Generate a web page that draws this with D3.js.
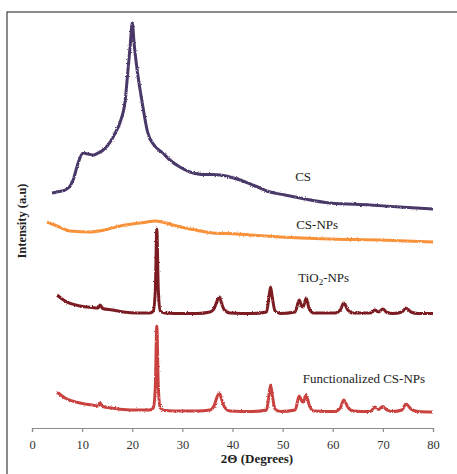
<!DOCTYPE html>
<html>
<head>
<meta charset="utf-8">
<script src="https://cdn.jsdelivr.net/npm/d3@7"></script>
<style>
  body { margin: 0; background: #fff; }
  svg text { font-family: "Liberation Serif", "Times New Roman", serif; }
</style>
</head>
<body>
<div id="chart"></div>
<script>
// XRD patterns, intensity in arbitrary (offset) units
var csTheta = [4.0, 5.0, 6.6, 7.6, 8.2, 9.2, 10.2, 11.2, 12.2, 13.2, 14.2, 15.6, 16.6, 17.6, 18.6, 19.2, 19.6, 20.0, 20.4, 20.9, 21.9, 23.1, 24.5, 26.1, 27.5, 29.5, 31.5, 33, 34.5, 36, 37.5, 39.1, 41.5, 44.5, 47.5, 50.5, 53.5, 59.5, 67.4, 73.4, 80]
var csValues = [235, 236, 238, 242, 248, 265, 275, 274, 273, 275, 278, 286, 295, 306, 328, 361, 383, 405, 383, 361, 328, 295, 282, 275, 268, 261, 256, 254, 253.5, 253.5, 253, 251.5, 248, 242, 236, 233, 230, 225, 223, 221, 219]

var npTheta = [3.0, 5, 7.6, 11.6, 14.5, 17.6, 21.5, 23.0, 24.5, 26, 28.1, 31.5, 36.1, 40.9, 45, 49.5, 59.5, 69.4, 80]
var npValues = [206, 202, 197, 196, 198, 202, 205, 206, 207, 206, 203, 199, 195, 194, 192.5, 191, 189, 188, 186]

var tioTheta = [5.0, 6.6, 9.6, 12.0, 13.2, 13.6, 14.1, 16, 18.2, 21, 23.5, 24.2, 24.6, 24.9, 25.2, 25.6, 26.5, 30, 33, 35.5, 36.3, 37.0, 37.4, 37.8, 38.4, 39.5, 44, 46.8, 47.3, 47.6, 47.9, 48.5, 49.5, 52.5, 53.3, 53.8, 54.1, 54.7, 55.3, 56.2, 60.5, 61.5, 62.2, 63.0, 64.0, 67.5, 68.4, 69.1, 70.0, 70.8, 72, 73.8, 74.6, 75.6, 77, 80]
var tioValues = [133, 127, 122, 120.5, 120, 123, 119.5, 118, 116, 115, 115, 117, 138, 199, 138, 117, 115, 114.5, 114.5, 116, 119, 128, 131, 125, 118, 115, 114.5, 116, 132, 141, 132, 117, 114.5, 116, 128, 122, 121, 130, 119, 115, 115, 118, 125, 118, 115, 115, 118, 116, 119, 115.5, 114.5, 116, 120, 116, 114.5, 114.5]
var funcValues = [36, 30, 25, 23, 22, 25, 21.5, 20, 18.5, 18, 18, 20, 41, 102, 41, 20, 17.5, 17, 17, 18, 22, 32, 35, 29, 21, 17, 16.5, 18, 34, 43, 34, 19, 16.5, 18, 32, 27, 26, 33, 23, 17, 16.5, 20, 28, 21, 17, 16.5, 21, 18.5, 21.5, 18, 16.5, 18, 24, 19, 16.5, 16]

var xTicks = [0, 10, 20, 30, 40, 50, 60, 70, 80]

var series = [
  { name: 'CS', theta: csTheta, values: csValues, color: '#4a3868', label: [52.5, 247] },
  { name: 'CS-NPs', theta: npTheta, values: npValues, color: '#f7923a', label: [52.7, 199] },
  { name: 'TiO2-NPs', theta: tioTheta, values: tioValues, color: '#7b1f22', label: [53.1, 146] },
  { name: 'Functionalized CS-NPs', theta: tioTheta, values: funcValues, color: '#c9433f', label: [54.0, 45] }
]

var width = 457
var height = 474

var svg = d3.select('#chart')
  .append('svg')
  .attr('width', width)
  .attr('height', height)

var x = d3.scaleLinear().domain([0, 80]).range([32, 433])
var y = d3.scaleLinear().domain([0, 420]).range([428, 8])

// outer frame (runs off the page on right/bottom)
svg.append('rect')
  .attr('x', 7)
  .attr('y', 12)
  .attr('width', 480)
  .attr('height', 480)
  .attr('fill', 'none')
  .attr('stroke', '#4d4d4d')
  .attr('stroke-width', 1.3)

// fuzzy look of the measured traces
var defs = svg.append('defs')
var filt = defs.append('filter').attr('id', 'rough')
  .attr('x', '-5%').attr('y', '-5%').attr('width', '110%').attr('height', '110%')
filt.append('feTurbulence')
  .attr('type', 'fractalNoise')
  .attr('baseFrequency', 1.2)
  .attr('numOctaves', 1)
  .attr('seed', 3)
  .attr('result', 'noise')
filt.append('feDisplacementMap')
  .attr('in', 'SourceGraphic')
  .attr('in2', 'noise')
  .attr('scale', 2.6)
  .attr('xChannelSelector', 'R')
  .attr('yChannelSelector', 'G')

var line = d3.line()
  .x(d => x(d[0]))
  .y(d => y(d[1]))
  .curve(d3.curveMonotoneX)

svg.selectAll('.trace')
  .data(series)
  .enter()
  .append('path')
  .attr('class', 'trace')
  .attr('d', d => line(d3.zip(d.theta, d.values)))
  .attr('fill', 'none')
  .attr('stroke', d => d.color)
  .attr('stroke-width', 3)
  .attr('stroke-linejoin', 'round')
  .attr('filter', 'url(#rough)')

// labels
var labels = svg.selectAll('.series-label')
  .data(series)
  .enter()
  .append('text')
  .attr('class', 'series-label')
  .attr('x', d => x(d.label[0]))
  .attr('y', d => y(d.label[1]))
  .attr('font-size', '13px')
  .attr('fill', '#222')

labels.each(function(d) {
  var t = d3.select(this)
  if (d.name === 'TiO2-NPs') {
    t.append('tspan').text('TiO')
    t.append('tspan').text('2').attr('font-size', '9px').attr('dy', 3)
    t.append('tspan').text('-NPs').attr('dy', -3)
  } else {
    t.text(d.name)
  }
})

// x axis
var xAxis = svg.append('g')
  .attr('transform', 'translate(0,428)')
  .call(d3.axisBottom(x).tickValues(xTicks).tickSize(4).tickPadding(8))

xAxis.select('.domain').attr('stroke', '#8c8c8c').attr('stroke-width', 1.2)
xAxis.selectAll('.tick line').attr('stroke', '#8c8c8c').attr('stroke-width', 1.2)
xAxis.selectAll('.tick text')
  .attr('font-family', '"Liberation Serif", serif')
  .attr('font-size', '12.5px')
  .attr('fill', '#333')

svg.append('text')
  .attr('x', 257)
  .attr('y', 463)
  .attr('text-anchor', 'middle')
  .attr('font-size', '13px')
  .attr('font-weight', 'bold')
  .attr('fill', '#222')
  .text('2\u0398 (Degrees)')

svg.append('text')
  .attr('transform', 'translate(26,221) rotate(-90)')
  .attr('text-anchor', 'middle')
  .attr('font-size', '12.5px')
  .attr('font-weight', 'bold')
  .attr('fill', '#222')
  .text('Intensity (a.u)')
</script>
</body>
</html>
